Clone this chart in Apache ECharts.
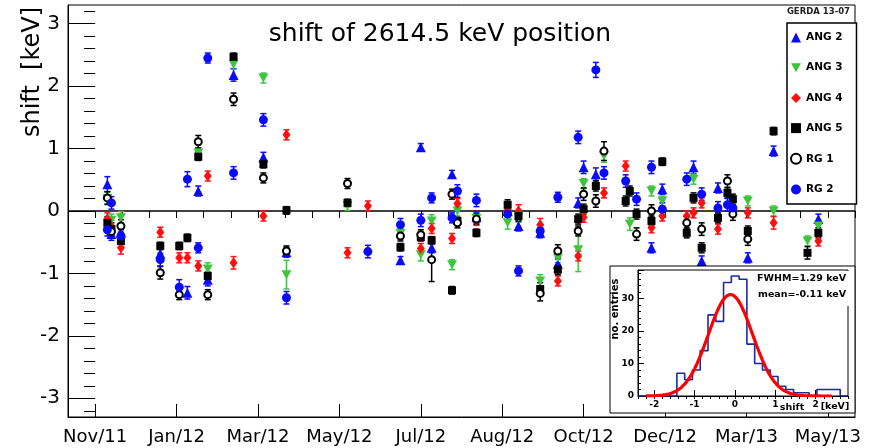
<!DOCTYPE html>
<html>
<head>
<meta charset="utf-8">
<script src="https://cdn.jsdelivr.net/npm/echarts@6/dist/echarts.min.js"></script>
<style>
  html, body { margin: 0; padding: 0; background: #fff; }
  #chart { width: 879px; height: 448px; }
</style>
</head>
<body>
<div id="chart"></div>
<script>
// Time axis in days counted from the "Nov/11" tick, major ticks every 60 days.
const tickLabels = ['Nov/11', 'Jan/12', 'Mar/12', 'May/12', 'Jul/12', 'Aug/12', 'Oct/12', 'Dec/12', 'Mar/13', 'May/13'];
const yTicks = [-3, -2, -1, 0, 1, 2, 3];

// Peak shift per calibration run: [day, shift (keV), error (keV)]
const ang2 = [[9,0.43,0.12],[12,-0.37,0.1],[19,-0.35,0.1],[48,-0.68,0.1],[68,-1.31,0.1],[76,0.32,0.08],[83,-1.10,0.1],[102,2.18,0.1],[124,0.86,0.08],[141,-0.66,0.08],[225,-0.79,0.06],[240,1.02,0.06],[248,-0.59,0.08],[263,0.59,0.06],[281,-0.10,0.08],[304,0.00,0.08],[312,-0.24,0.08],[328,-0.35,0.08],[341,-0.85,0.08],[356,0.13,0.08],[360,0.70,0.1],[369,0.59,0.1],[410,-0.59,0.08],[418,0.35,0.08],[441,0.70,0.1],[447,-0.80,0.08],[459,0.37,0.08],[481,-0.75,0.08],[500,0.96,0.08],[533,-0.13,0.08]];
const ang3 = [[9,0.20,0.1],[12,-0.15,0.1],[19,-0.11,0.1],[76,0.93,0.08],[83,-0.93,0.1],[102,2.35,0.08],[124,2.13,0.08],[141,-1.02,0.23],[186,0.09,0.08],[225,-0.36,0.08],[240,-0.70,0.1],[248,-0.16,0.1],[263,-0.86,0.08],[267,0.00,0.08],[281,-0.12,0.08],[304,-0.19,0.1],[312,-0.10,0.08],[328,-1.12,0.1],[341,-0.75,0.08],[356,-0.62,0.35],[360,0.44,0.08],[375,0.88,0.1],[394,-0.21,0.1],[410,0.32,0.08],[418,0.16,0.08],[441,0.51,0.08],[481,0.16,0.08],[500,0.00,0.08],[525,-0.48,0.08],[533,-0.24,0.08]];
const ang4 = [[9,-0.13,0.1],[12,-0.25,0.1],[19,-0.59,0.1],[48,-0.34,0.08],[62,-0.75,0.08],[68,-0.75,0.08],[76,-0.88,0.08],[83,0.56,0.08],[102,-0.83,0.1],[124,-0.08,0.08],[141,1.22,0.08],[186,-0.67,0.08],[201,0.08,0.08],[240,-0.60,0.08],[248,-0.28,0.08],[263,-0.44,0.08],[267,0.12,0.08],[281,-0.15,0.08],[304,0.02,0.08],[312,0.00,0.1],[328,-0.22,0.1],[341,-1.12,0.08],[356,-0.72,0.08],[360,-0.10,0.08],[375,0.29,0.08],[391,0.72,0.08],[410,-0.27,0.08],[418,-0.08,0.08],[436,-0.08,0.08],[441,-0.03,0.08],[447,0.13,0.08],[459,-0.29,0.08],[481,-0.03,0.08],[500,-0.19,0.1],[533,-0.48,0.08]];
const ang5 = [[9,-0.19,0.1],[12,-0.29,0.1],[19,-0.48,0.1],[48,-0.56,0.06],[62,-0.56,0.06],[68,-0.43,0.06],[76,0.87,0.06],[83,-1.04,0.06],[102,2.47,0.06],[124,0.75,0.06],[141,0.01,0.06],[186,0.13,0.06],[225,-0.58,0.06],[240,-0.42,0.06],[248,-0.47,0.06],[263,-1.27,0.06],[267,-0.16,0.06],[281,-0.35,0.06],[304,0.10,0.08],[312,-0.08,0.08],[328,-1.25,0.1],[341,-0.94,0.08],[356,-0.13,0.08],[360,0.03,0.08],[369,0.40,0.08],[391,0.16,0.08],[394,0.32,0.08],[399,-0.05,0.08],[410,-0.16,0.08],[418,0.79,0.06],[436,-0.35,0.08],[441,0.21,0.08],[447,-0.59,0.08],[459,-0.11,0.08],[466,0.29,0.08],[470,0.19,0.08],[481,-0.32,0.08],[500,1.28,0.06],[525,-0.67,0.1],[533,-0.35,0.08]];
const rg1 = [[9,0.21,0.1],[12,-0.33,0.1],[19,-0.24,0.1],[48,-0.99,0.1],[62,-1.34,0.08],[76,1.11,0.1],[83,-1.34,0.08],[102,1.79,0.1],[124,0.53,0.08],[141,-0.64,0.08],[186,0.44,0.08],[225,-0.40,0.08],[240,-0.38,0.08],[248,-0.78,0.35],[263,0.27,0.08],[267,-0.19,0.08],[281,-0.13,0.08],[328,-1.32,0.12],[341,-0.64,0.1],[356,-0.32,0.08],[360,0.27,0.1],[369,0.16,0.1],[375,0.96,0.15],[399,-0.37,0.1],[410,0.00,0.1],[436,-0.19,0.1],[447,-0.29,0.1],[466,0.48,0.1],[470,-0.05,0.1],[481,-0.45,0.1]];
const rg2 = [[9,-0.30,0.1],[12,0.13,0.1],[19,-0.40,0.1],[48,-0.78,0.1],[62,-1.22,0.12],[68,0.51,0.12],[76,-0.59,0.08],[83,2.45,0.08],[102,0.61,0.1],[124,1.46,0.1],[141,-1.39,0.1],[201,-0.65,0.1],[225,-0.22,0.1],[240,-0.15,0.1],[248,0.21,0.08],[263,-0.11,0.08],[267,0.32,0.1],[281,0.17,0.1],[304,-0.05,0.1],[312,-0.96,0.08],[328,-0.32,0.1],[341,0.22,0.08],[356,1.18,0.1],[369,2.26,0.12],[375,0.61,0.1],[391,0.48,0.1],[399,0.19,0.1],[410,0.70,0.1],[418,0.03,0.1],[436,0.51,0.1],[447,0.27,0.1],[459,0.05,0.1],[466,0.10,0.1],[470,0.05,0.1]];

// Distribution of all shifts (27 bins from -2.4 to 2.8 keV)
const histLow = -2.4;
const histHigh = 2.8;
const histCounts = [0,0,0,0,0,7,5,8,14,25,23,35,37,36,16,10,8,6,3,2,1,1,0,2,2,2,0];
const histTicks = [-2, -1, 0, 1, 2];

// Gaussian fit parameters (as printed in the stats box)
const fitMean = -0.11;
const fitFWHM = 1.29;
const fitPeak = 31.3;
const fitRange = [-2.2, 2.4];

const FONT = 'DejaVu Sans';

// step outline of the histogram, one point per bin edge
const binWidth = (histHigh - histLow) / histCounts.length;
const histLine = histCounts.map((c, i) => [histLow + i * binWidth, c]);
histLine.push([histHigh, histCounts[histCounts.length - 1]]);

// fitted gaussian sampled over the fit range
const sigma = fitFWHM / (2 * Math.sqrt(2 * Math.log(2)));
const fitLine = [];
for (let i = 0; i <= 115; i++) {
  const x = fitRange[0] + (fitRange[1] - fitRange[0]) * i / 115;
  fitLine.push([x, fitPeak * Math.exp(-0.5 * Math.pow((x - fitMean) / sigma, 2))]);
}

const minorX = [];
for (let v = -20; v <= 560; v += 20) minorX.push(v);
const minorY = [];
for (let k = -16; k <= 16; k++) minorY.push(+(k * 0.2).toFixed(1));

const DOWN_TRIANGLE = 'path://M0,0 L10,0 L5,9 Z';

const detectors = [
  { name: 'ANG 2', data: ang2, color: '#0a0aff', symbol: 'triangle', size: 10, rotate: 0 },
  { name: 'ANG 3', data: ang3, color: '#3fc43f', symbol: DOWN_TRIANGLE, size: [10, 9], rotate: 0 },
  { name: 'ANG 4', data: ang4, color: '#ff1010', symbol: 'diamond', size: [8, 11], rotate: 0 },
  { name: 'ANG 5', data: ang5, color: '#000000', symbol: 'rect', size: 8, rotate: 0 },
  { name: 'RG 1', data: rg1, color: '#000000', symbol: 'circle', size: 7, rotate: 0, open: true },
  { name: 'RG 2', data: rg2, color: '#0a0aff', symbol: 'circle', size: 9, rotate: 0 }
];

function errorBars(color) {
  return function (params, api) {
    const x = api.value(0), y = api.value(1), e = api.value(2);
    const hi = api.coord([x, y + e]);
    const lo = api.coord([x, y - e]);
    const hw = 3;
    const st = { stroke: color, lineWidth: 1.5 };
    return {
      type: 'group',
      children: [
        { type: 'line', shape: { x1: hi[0], y1: hi[1], x2: lo[0], y2: lo[1] }, style: st },
        { type: 'line', shape: { x1: hi[0] - hw, y1: hi[1], x2: hi[0] + hw, y2: hi[1] }, style: st },
        { type: 'line', shape: { x1: lo[0] - hw, y1: lo[1], x2: lo[0] + hw, y2: lo[1] }, style: st }
      ]
    };
  };
}

const series = [];
detectors.forEach((d) => {
  series.push({
    name: d.name + ' err',
    type: 'custom',
    xAxisIndex: 0, yAxisIndex: 0,
    data: d.data,
    encode: { x: 0, y: 1 },
    renderItem: errorBars(d.color),
    silent: true,
    z: 2
  });
});
detectors.forEach((d, i) => {
  const s = {
    name: d.name,
    type: 'scatter',
    xAxisIndex: 0, yAxisIndex: 0,
    data: d.data,
    encode: { x: 0, y: 1 },
    symbol: d.symbol,
    symbolSize: d.size,
    symbolRotate: d.rotate,
    itemStyle: d.open
      ? { color: '#ffffff', borderColor: '#000000', borderWidth: 2, opacity: 1 }
      : { color: d.color, opacity: 1 },
    z: 3
  };
  if (i === 0) {
    s.markLine = {
      silent: true, symbol: 'none', animation: false,
      label: { show: false },
      lineStyle: { color: '#000', width: 1.5, type: 'solid' },
      data: [{ yAxis: 0 }],
      z: 1
    };
  }
  series.push(s);
});

series.push({
  name: 'entries',
  type: 'line',
  xAxisIndex: 2, yAxisIndex: 2,
  data: histLine,
  step: 'end',
  symbol: 'none',
  lineStyle: { color: '#1b2a9c', width: 1.6 },
  z: 21,
  silent: true
});
series.push({
  name: 'fit',
  type: 'line',
  xAxisIndex: 2, yAxisIndex: 2,
  data: fitLine,
  symbol: 'none',
  smooth: false,
  lineStyle: { color: '#ff0000', width: 3.2 },
  z: 22,
  silent: true
});

const chart = echarts.init(document.getElementById('chart'), null, { renderer: 'canvas' });
chart.setOption({
  animation: false,
  backgroundColor: '#ffffff',
  grid: [
    { left: 68, top: 5, width: 787, height: 412, show: true, borderColor: '#000', borderWidth: 1, backgroundColor: 'transparent' },
    { left: 638, top: 270, width: 210, height: 126, show: true, borderColor: '#000', borderWidth: 1, backgroundColor: 'transparent', z: 20 }
  ],
  xAxis: [
    {
      gridIndex: 0, type: 'value', min: -20, max: 560,
      axisLine: { show: true, onZero: false, lineStyle: { color: '#000', width: 1 } },
      axisTick: { show: true, inside: true, length: 13, customValues: tickLabels.map((_, i) => i * 60), lineStyle: { color: '#000', width: 1 } },
      axisLabel: {
        show: true, customValues: tickLabels.map((_, i) => i * 60), margin: 11,
        formatter: v => tickLabels[Math.round(v / 60)],
        fontFamily: FONT, fontSize: 18, color: '#000'
      },
      splitLine: { show: false }
    },
    {
      gridIndex: 0, type: 'value', min: -20, max: 560, interval: 20,
      axisLine: { show: false },
      axisTick: { show: true, inside: true, length: 7, customValues: minorX, lineStyle: { color: '#000', width: 1 } },
      axisLabel: { show: false },
      splitLine: { show: false }
    },
    {
      gridIndex: 1, type: 'value', min: histLow, max: histHigh, z: 21,
      axisLine: { show: true, onZero: false, lineStyle: { color: '#000', width: 1 } },
      axisTick: { show: true, inside: true, length: 6, customValues: histTicks, lineStyle: { color: '#000' } },
      axisLabel: { show: true, customValues: histTicks, margin: 4, fontFamily: FONT, fontSize: 9, fontWeight: 'bold', color: '#000' },
      splitLine: { show: false }
    },
    {
      gridIndex: 1, type: 'value', min: histLow, max: histHigh, interval: 0.2, z: 21,
      axisLine: { show: false },
      axisTick: { show: true, inside: true, length: 3, lineStyle: { color: '#000' } },
      axisLabel: { show: false },
      splitLine: { show: false }
    }
  ],
  yAxis: [
    {
      gridIndex: 0, type: 'value', min: -3.3, max: 3.3,
      axisLine: { show: true, onZero: false, lineStyle: { color: '#000', width: 1 } },
      axisTick: { show: true, inside: true, length: 20, customValues: yTicks, lineStyle: { color: '#000', width: 1 } },
      axisLabel: { show: true, customValues: yTicks, margin: 8, fontFamily: FONT, fontSize: 20, color: '#000' },
      splitLine: { show: false }
    },
    {
      gridIndex: 0, type: 'value', min: -3.3, max: 3.3,
      axisLine: { show: false },
      axisTick: { show: true, inside: true, length: 11, customValues: minorY, lineStyle: { color: '#000', width: 1 } },
      axisLabel: { show: false },
      splitLine: { show: false }
    },
    {
      gridIndex: 1, type: 'value', min: 0, max: 38.85, interval: 10, z: 21,
      axisLine: { show: true, onZero: false, lineStyle: { color: '#000', width: 1 } },
      axisTick: { show: true, inside: true, length: 6, lineStyle: { color: '#000' } },
      minorTick: { show: true, splitNumber: 5, length: 3, lineStyle: { color: '#000' } },
      axisLabel: { show: true, margin: 4, fontFamily: FONT, fontSize: 9, fontWeight: 'bold', color: '#000', formatter: v => (v > 38 ? '' : String(v)) },
      splitLine: { show: false }
    }
  ],
  legend: {
    data: detectors.map(d => d.name),
    orient: 'vertical',
    left: 787, top: 23,
    padding: [9, 14, 9, 3],
    itemWidth: 10, itemHeight: 10,
    itemGap: 19.2,
    borderColor: '#000', borderWidth: 1.5,
    backgroundColor: '#fff',
    textStyle: { fontFamily: FONT, fontSize: 10.5, fontWeight: 'bold', color: '#000' },
    selectedMode: false,
    z: 30
  },
  graphic: [
    // white inset pad holding the distribution
    { type: 'rect', z: 10, shape: { x: 610, y: 266, width: 245, height: 147 },
      style: { fill: '#fff', stroke: '#000', lineWidth: 1 } },
    // stats box
    { type: 'rect', z: 40, shape: { x: 752, y: 271, width: 98, height: 35 },
      style: { fill: '#fff', stroke: null } },
    { type: 'text', z: 41, x: 846, y: 279,
      style: { text: 'FWHM=1.29 keV', fontFamily: FONT, fontSize: 9.5, fontWeight: 'bold', fill: '#000', align: 'right', verticalAlign: 'middle' } },
    { type: 'text', z: 41, x: 846, y: 295,
      style: { text: 'mean=-0.11 keV', fontFamily: FONT, fontSize: 9.5, fontWeight: 'bold', fill: '#000', align: 'right', verticalAlign: 'middle' } },
    { type: 'text', z: 41, x: 615, y: 309, rotation: Math.PI / 2,
      style: { text: 'no. entries', fontFamily: FONT, fontSize: 10, fontWeight: 'bold', fill: '#000', align: 'center', verticalAlign: 'middle' } },
    { type: 'text', z: 41, x: 792, y: 408,
      style: { text: 'shift', fontFamily: FONT, fontSize: 9.5, fontWeight: 'bold', fill: '#000', align: 'center', verticalAlign: 'middle' } },
    { type: 'text', z: 41, x: 835, y: 407,
      style: { text: '[keV]', fontFamily: FONT, fontSize: 9.5, fontWeight: 'bold', fill: '#000', align: 'center', verticalAlign: 'middle' } },
    // titles
    { type: 'text', z: 5, x: 440, y: 34,
      style: { text: 'shift of 2614.5 keV position', fontFamily: FONT, fontSize: 25, fill: '#000', align: 'center', verticalAlign: 'middle' } },
    { type: 'text', z: 5, x: 850, y: 12,
      style: { text: 'GERDA 13-07', fontFamily: FONT, fontSize: 8.5, fontWeight: 'bold', fill: '#222', align: 'right', verticalAlign: 'middle' } },
    { type: 'text', z: 5, x: 33, y: 72, rotation: Math.PI / 2,
      style: { text: 'shift  [keV]', fontFamily: FONT, fontSize: 24, fill: '#000', align: 'center', verticalAlign: 'middle' } }
  ],
  series: series
});
</script>
</body>
</html>
